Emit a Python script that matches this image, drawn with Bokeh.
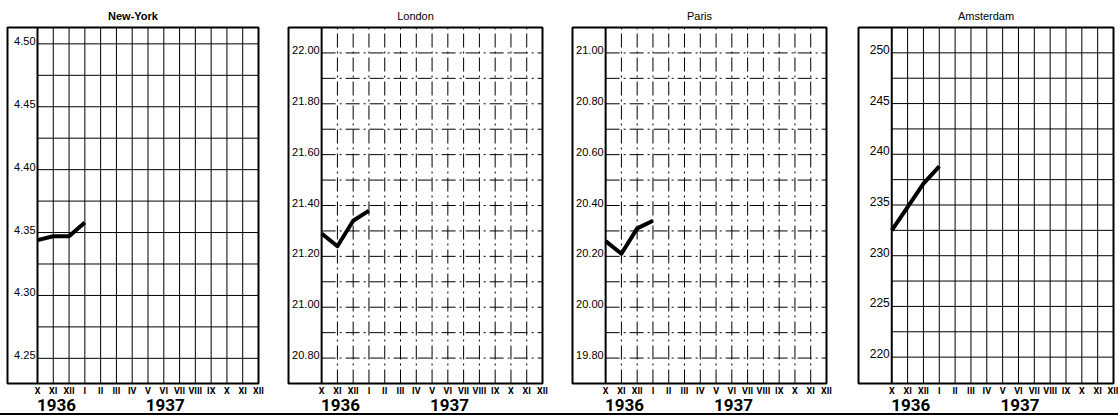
import numpy as np
from bokeh.plotting import figure
from bokeh.layouts import row, column
from bokeh.models import FixedTicker, LinearAxis, Range1d, Div
from bokeh.core.properties import value
from bokeh.embed import file_html
from bokeh.resources import INLINE

# ---- data ----
month_labels = ["X", "XI", "XII", "I", "II", "III", "IV", "V", "VI", "VII", "VIII", "IX", "X", "XI", "XII"]
month_pos = list(range(15))
year_labels = ["1936", "1937"]
year_pos = [1.2, 8.1]

cities = ["New-York", "London", "Paris", "Amsterdam"]
obs_months = [0, 1, 2, 3]
ny_values = [4.344, 4.347, 4.347, 4.358]
london_values = [21.29, 21.24, 21.34, 21.38]
paris_values = [20.26, 20.21, 20.31, 20.34]
amsterdam_values = [232.5, 234.8, 237.1, 238.8]

ny_ticks = [4.25, 4.30, 4.35, 4.40, 4.45, 4.50]
ny_tick_labels = ["4.25", "4.30", "4.35", "4.40", "4.45", "4.50"]
london_ticks = [20.8, 21.0, 21.2, 21.4, 21.6, 21.8, 22.0]
london_tick_labels = ["20.80", "21.00", "21.20", "21.40", "21.60", "21.80", "22.00"]
paris_ticks = [19.8, 20.0, 20.2, 20.4, 20.6, 20.8, 21.0]
paris_tick_labels = ["19.80", "20.00", "20.20", "20.40", "20.60", "20.80", "21.00"]
amsterdam_ticks = [220, 225, 230, 235, 240, 245, 250]
amsterdam_tick_labels = ["220", "225", "230", "235", "240", "245", "250"]

panels = [
    dict(title=cities[0], values=ny_values, ticks=ny_ticks, labels=ny_tick_labels,
         ylim=(4.230, 4.513), x0=-1.9, fw=251, bl=7, br=15, dash="solid", bold=True, lfs="11px"),
    dict(title=cities[1], values=london_values, ticks=london_ticks, labels=london_tick_labels,
         ylim=(20.70, 22.10), x0=-2.1, fw=254, bl=15, br=15, dash="14 4 2 4", bold=False, lfs="11px"),
    dict(title=cities[2], values=paris_values, ticks=paris_ticks, labels=paris_tick_labels,
         ylim=(19.70, 21.10), x0=-2.1, fw=254, bl=15, br=16, dash="14 4 2 4", bold=False, lfs="11px"),
    dict(title=cities[3], values=amsterdam_values, ticks=amsterdam_ticks, labels=amsterdam_tick_labels,
         ylim=(217.4, 252.5), x0=-2.1, fw=255, bl=16, br=5, dash="solid", bold=False, lfs="12px"),
]

AXF = "Roboto"
REG = "Liberation Sans"

figs = []
for cfg in panels:
    p = figure(frame_width=cfg["fw"], frame_height=356,
               x_range=Range1d(cfg["x0"], 14), y_range=Range1d(*cfg["ylim"]),
               output_backend="svg", toolbar_location=None,
               x_axis_location="below", y_axis_location=None,
               min_border_left=cfg["bl"], min_border_right=cfg["br"],
               min_border_top=27, min_border_bottom=0,
               title=cfg["title"])
    p.title.align = "center"
    p.title.text_font = REG
    p.title.text_font_size = "11px"
    p.title.text_color = "black"
    p.title.text_font_style = "bold" if cfg["bold"] else "normal"
    p.title.standoff = 12
    p.title.offset = 0
    p.grid.visible = False
    p.outline_line_color = "black"
    p.outline_line_width = 2
    p.background_fill_color = "white"
    p.border_fill_color = "white"

    t = cfg["ticks"]
    hy = np.linspace(t[0], t[-1], 2 * (len(t) - 1) + 1)
    p.segment(x0=[0] * len(hy), x1=[14] * len(hy), y0=hy, y1=hy,
              line_color="black", line_width=1.0, line_dash=cfg["dash"])
    vx = month_pos[1:]
    ylo, yhi = cfg["ylim"]
    p.segment(x0=vx, x1=vx, y0=[ylo] * len(vx), y1=[yhi] * len(vx),
              line_color="black", line_width=1.0, line_dash=cfg["dash"])
    p.segment(x0=[0], x1=[0], y0=[ylo], y1=[yhi], line_color="black", line_width=2)

    p.text(x=[0] * len(t), y=t, text=cfg["labels"], text_align="right",
           text_baseline="bottom", x_offset=-2, y_offset=1,
           text_font=value(REG), text_font_size=cfg["lfs"], text_color="black")

    p.line(obs_months, cfg["values"], line_color="black", line_width=4, line_join="round")

    ax = p.xaxis[0]
    ax.ticker = FixedTicker(ticks=month_pos)
    ax.major_label_overrides = {i: lab for i, lab in zip(month_pos, month_labels)}
    ax.axis_line_color = None
    ax.major_tick_line_color = None
    ax.minor_tick_line_color = None
    ax.major_tick_out = 0
    ax.major_tick_in = 0
    ax.minor_tick_out = 0
    ax.major_label_standoff = 2
    ax.major_label_text_font = AXF
    ax.major_label_text_font_size = "9px"
    ax.major_label_text_font_style = "bold"
    ax.major_label_text_color = "black"

    ax2 = LinearAxis(ticker=FixedTicker(ticks=year_pos),
                     major_label_overrides={k: v for k, v in zip(year_pos, year_labels)})
    ax2.axis_line_color = None
    ax2.major_tick_line_color = None
    ax2.minor_tick_line_color = None
    ax2.major_tick_out = 0
    ax2.major_tick_in = 0
    ax2.minor_tick_out = 0
    ax2.major_label_standoff = 0
    ax2.major_label_text_font = AXF
    ax2.major_label_text_font_size = "17px"
    ax2.major_label_text_font_style = "bold"
    ax2.major_label_text_color = "black"
    p.add_layout(ax2, "below")
    figs.append(p)

bar = Div(text="", width=1118, height=2, margin=0,
          styles={"background-color": "black"})
layout = column(row(*figs, spacing=0), bar, spacing=0)

open("out.html", "w").write(file_html(layout, INLINE))
